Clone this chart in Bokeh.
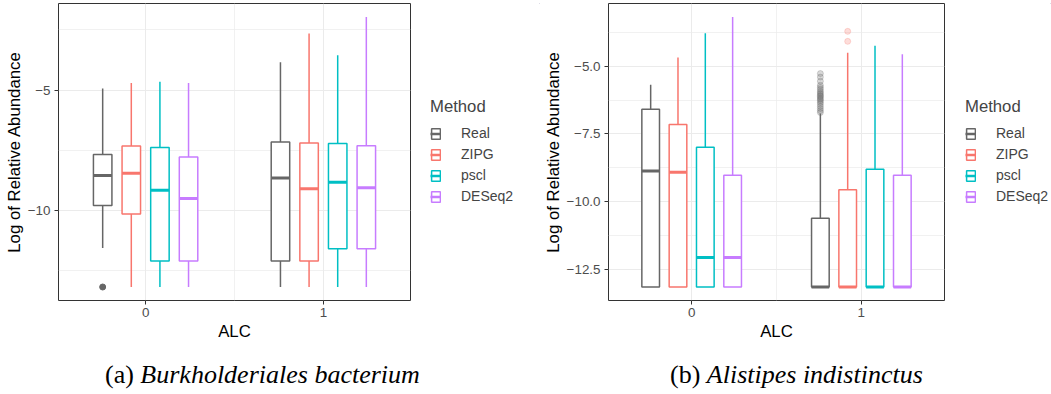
from bokeh.plotting import figure
from bokeh.models import ColumnDataSource, FixedTicker, Legend, LegendItem, Div, Spacer
from bokeh.layouts import row, column
from bokeh.transform import dodge
from bokeh.embed import file_html
from bokeh.resources import INLINE

# ---------------- data ----------------
methods = ["Real", "ZIPG", "pscl", "DESeq2"]
colors = ["#666666", "#F8766D", "#00BFC4", "#C77CFF"]
groups = [0, 1]          # ALC categories
group_labels = ["0", "1"]

# Panel (a) Burkholderiales bacterium : [ALC=0, ALC=1]
a_lower = {"Real": [-11.56, -13.18], "ZIPG": [-13.18, -13.18], "pscl": [-13.18, -13.18], "DESeq2": [-13.18, -13.18]}
a_q1 = {"Real": [-9.79, -12.10], "ZIPG": [-10.15, -12.10], "pscl": [-12.10, -11.59], "DESeq2": [-12.10, -11.59]}
a_median = {"Real": [-8.55, -8.65], "ZIPG": [-8.45, -9.10], "pscl": [-9.16, -8.83], "DESeq2": [-9.50, -9.06]}
a_q3 = {"Real": [-7.67, -7.15], "ZIPG": [-7.32, -7.20], "pscl": [-7.38, -7.22], "DESeq2": [-7.78, -7.31]}
a_upper = {"Real": [-4.93, -3.84], "ZIPG": [-4.70, -2.65], "pscl": [-4.65, -3.55], "DESeq2": [-4.70, -1.96]}
a_outliers = {"Real": ([0], [-13.18]), "ZIPG": ([], []), "pscl": ([], []), "DESeq2": ([], [])}

# Panel (b) Alistipes indistinctus : [ALC=0, ALC=1]
b_lower = {"Real": [-13.16, -13.16], "ZIPG": [-13.16, -13.16], "pscl": [-13.16, -13.16], "DESeq2": [-13.16, -13.16]}
b_q1 = {"Real": [-13.16, -13.16], "ZIPG": [-13.16, -13.16], "pscl": [-13.16, -13.16], "DESeq2": [-13.16, -13.16]}
b_median = {"Real": [-8.87, -13.16], "ZIPG": [-8.92, -13.16], "pscl": [-12.07, -13.16], "DESeq2": [-12.07, -13.16]}
b_q3 = {"Real": [-6.59, -10.62], "ZIPG": [-7.15, -9.57], "pscl": [-7.99, -8.81], "DESeq2": [-9.03, -9.03]}
b_upper = {"Real": [-5.68, -6.75], "ZIPG": [-4.68, -4.50], "pscl": [-3.78, -4.24], "DESeq2": [-3.18, -4.56]}
b_real_out = [-5.27, -5.40, -5.55, -5.70, -5.78, -5.85, -5.92, -5.98, -6.03, -6.08,
              -6.12, -6.17, -6.22, -6.27, -6.33, -6.40, -6.48, -6.56, -6.64, -6.71]
b_outliers = {"Real": ([1] * len(b_real_out), b_real_out), "ZIPG": ([1, 1], [-3.71, -4.08]),
              "pscl": ([], []), "DESeq2": ([], [])}

a_yticks = [-10, -5]
a_yminor = [-12.5, -7.5, -2.5]
a_ylabels = {-10: "\u221210", -5: "\u22125"}
b_yticks = [-12.5, -10, -7.5, -5]
b_yminor = [-11.25, -8.75, -6.25, -3.75]
b_ylabels = {-12.5: "\u221212.5", -10: "\u221210.0", -7.5: "\u22127.5", -5: "\u22125.0"}

legend_title = "Method"
caption_a = ("(a) ", "Burkholderiales bacterium")
caption_b = ("(b) ", "Alistipes indistinctus")

# ---------------- styling ----------------
OFFSETS = [-0.2415, -0.0805, 0.0805, 0.2415]
BOX_W = 0.104
FONT = "Liberation Sans"
GRID = "#EBEBEB"
H = 360


def panel(lower, q1, med, q3, upper, outliers, y_range, yticks, yminor, ylabels,
          width, border_left, out_alpha):
    p = figure(width=width, height=H, x_range=(-0.49, 1.49), y_range=y_range,
               output_backend="svg", toolbar_location=None,
               min_border_left=border_left, min_border_right=2,
               min_border_top=3, min_border_bottom=H - 300)
    p.background_fill_color = "white"
    p.border_fill_color = "white"
    p.outline_line_color = "#333333"
    p.outline_line_width = 1

    p.xaxis.ticker = FixedTicker(ticks=groups, minor_ticks=[0.5])
    p.yaxis.ticker = FixedTicker(ticks=yticks, minor_ticks=yminor)
    p.xaxis.major_label_overrides = {g: l for g, l in zip(groups, group_labels)}
    p.yaxis.major_label_overrides = ylabels
    for ax in (p.xaxis[0], p.yaxis[0]):
        ax.axis_line_color = None
        ax.major_tick_line_color = "#333333"
        ax.major_tick_out = 4
        ax.major_tick_in = 0
        ax.minor_tick_line_color = None
        ax.major_label_text_font = FONT
        ax.major_label_text_font_size = "13.4px"
        ax.major_label_text_color = "#4D4D4D"
        ax.axis_label_text_font = FONT
        ax.axis_label_text_font_size = "16.8px"
        ax.axis_label_text_font_style = "normal"
        ax.axis_label_text_color = "black"
    p.xaxis.axis_label = "ALC"
    p.yaxis.axis_label = "Log of Relative Abundance"
    p.xaxis.major_label_standoff = 3
    p.xaxis.axis_label_standoff = 2
    p.yaxis.major_label_standoff = 4
    p.yaxis.axis_label_standoff = 1

    for grid in (p.xgrid[0], p.ygrid[0]):
        grid.grid_line_color = GRID
        grid.grid_line_width = 1
        grid.minor_grid_line_color = GRID
        grid.minor_grid_line_width = 0.7

    for i, m in enumerate(methods):
        c = colors[i]
        off = OFFSETS[i]
        src = ColumnDataSource(dict(g=groups, lower=lower[m], q1=q1[m], med=med[m],
                                    q3=q3[m], upper=upper[m]))
        p.segment(x0=dodge("g", off), y0="lower", x1=dodge("g", off), y1="q1", source=src,
                  line_color=c, line_width=1.5)
        p.segment(x0=dodge("g", off), y0="q3", x1=dodge("g", off), y1="upper", source=src,
                  line_color=c, line_width=1.5)
        p.vbar(x=dodge("g", off), width=BOX_W, bottom="q1", top="q3", source=src,
               fill_color="white", line_color=c, line_width=1.5)
        p.segment(x0=dodge("g", off - BOX_W / 2), y0="med", x1=dodge("g", off + BOX_W / 2),
                  y1="med", source=src, line_color=c, line_width=3, line_cap="butt")
        og, ov = outliers[m]
        if og:
            osrc = ColumnDataSource(dict(g=og, v=ov))
            p.scatter(x=dodge("g", off), y="v", source=osrc, size=6, fill_color=c,
                      line_color=c, fill_alpha=out_alpha, line_alpha=out_alpha)
    return p


def legend_fig(width, legend_x, legend_y):
    lf = figure(width=width, height=H, x_range=(0, 1), y_range=(0, 1),
                x_axis_type=None, y_axis_type=None, output_backend="svg",
                toolbar_location=None, min_border=0)
    lf.outline_line_color = None
    lf.background_fill_color = "white"
    lf.border_fill_color = "white"
    items = []
    for i, m in enumerate(methods):
        c = colors[i]
        # legend-key glyphs only: their single point lies outside the visible range
        b = lf.vbar(x=[5], width=0.1, bottom=[5], top=[6], fill_color="white",
                    line_color=c, line_width=1.5)
        s = lf.segment(x0=[5], y0=[5], x1=[6], y1=[5], line_color=c, line_width=2.5)
        items.append(LegendItem(label=m, renderers=[b, s]))
    leg = Legend(items=items, location=(legend_x, legend_y), title=legend_title,
                 title_text_font=FONT, title_text_font_size="16.7px", title_text_font_style="normal",
                 label_text_font=FONT, label_text_font_size="14px",
                 glyph_width=11, glyph_height=13, label_height=13, spacing=5,
                 padding=5, margin=0, label_standoff=20, title_standoff=8,
                 border_line_color=None, background_fill_color=None, background_fill_alpha=0)
    lf.add_layout(leg)
    return lf


p1 = panel(a_lower, a_q1, a_median, a_q3, a_upper, a_outliers, (-13.741, -1.399),
           a_yticks, a_yminor, a_ylabels, width=412, border_left=58, out_alpha=1.0)
l1 = legend_fig(128, 18, 96)
p2 = panel(b_lower, b_q1, b_median, b_q3, b_upper, b_outliers, (-13.66, -2.68),
           b_yticks, b_yminor, b_ylabels, width=406, border_left=63, out_alpha=0.25)
l2 = legend_fig(105, 19, 96)

cap_style = {"font-family": "'Liberation Serif', serif", "font-size": "26px",
             "line-height": "normal", "white-space": "nowrap", "color": "black",
             "margin": "0", "padding": "0"}
d1 = Div(text=f"{caption_a[0]}<i>{caption_a[1]}</i>", width=565, height=30, styles=cap_style)
d2 = Div(text=f"{caption_b[0]}<i>{caption_b[1]}</i>", width=381, height=30, styles=cap_style)

layout = column(row(p1, l1, p2, l2), row(Spacer(width=105, height=30), d1, d2))

open("out.html", "w").write(file_html(layout, INLINE, title="boxplots"))
